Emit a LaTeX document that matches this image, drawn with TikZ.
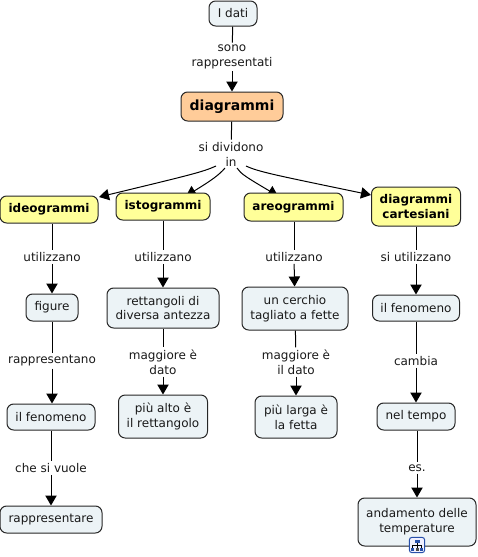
\documentclass[tikz,border=0pt]{standalone}
\usepackage{fontspec}
\setmainfont{DejaVu Sans}
\usetikzlibrary{arrows.meta,backgrounds}
\definecolor{plain}{RGB}{236,243,246}
\definecolor{gold}{RGB}{255,255,153}
\definecolor{peach}{RGB}{255,204,153}
\definecolor{iconblue}{RGB}{40,80,170}
\tikzset{
  concept/.style={draw=black!85,line width=.75pt,rounded corners=5pt,fill=plain,align=center,inner sep=0pt,
    font=\fontsize{9}{11.2}\selectfont,text=black!90},
  family/.style={concept,fill=gold,font=\fontsize{9}{11.2}\selectfont\bfseries,text=black},
  topic/.style={concept,fill=peach,font=\fontsize{10.5}{13}\selectfont\bfseries,text=black},
  boxsize/.style 2 args={minimum width=#1*.75pt,minimum height=#2*.75pt},
  link/.style={align=center,inner sep=1.5pt,font=\fontsize{9}{11.2}\selectfont,text=black!90},
  line/.style={line width=.75pt,black},
  arrow/.style={line,-{Triangle[length=7.5pt,width=8.5pt]}}
}
\begin{document}
\begin{tikzpicture}[x=.75pt,y=-.75pt]
\useasboundingbox (0,0) rectangle (478,557);
\node[concept,boxsize={48}{25}] (dati) at (233,13.5) {I dati};
\node[topic,boxsize={102}{29}] (diagrammi) at (232,106.5) {\raisebox{-1pt}{diagrammi}};
\node[family,boxsize={98}{27}] (ideogrammi) at (49,209.5) {ideogrammi};
\node[family,boxsize={94}{27}] (istogrammi) at (163,206.5) {istogrammi};
\node[family,boxsize={99}{28}] (areogrammi) at (293.5,207) {areogrammi};
\node[family,boxsize={89}{39}] (cartesiani) at (416,206.5) {diagrammi\\cartesiani};
\node[concept,boxsize={52}{27}] (figure) at (52,307.5) {figure};
\node[concept,boxsize={112}{40}] (rettangoli) at (163,308) {rettangoli di\\diversa antezza};
\node[concept,boxsize={106}{43}] (cerchio) at (295,308.5) {un cerchio\\tagliato a fette};
\node[concept,boxsize={87}{26}] (fenomenoB) at (416,308) {il fenomeno};
\node[concept,boxsize={88}{26}] (fenomenoA) at (51,417) {il fenomeno};
\node[concept,boxsize={89}{43}] (alto) at (163,416.5) {più alto è\\il rettangolo};
\node[concept,boxsize={82}{42}] (larga) at (296,417) {più larga è\\la fetta};
\node[concept,boxsize={78}{27}] (tempo) at (416,416.5) {nel tempo};
\node[concept,boxsize={102}{27}] (rappresentare) at (51,519.5) {rappresentare};
\node[concept,boxsize={118}{48}] (andamento) at (417,522) {andamento delle\\temperature};
% labels on the connectors
\node[link] (sono) at (232,57) {sono\\rappresentati};
\node[link] (dividono) at (231,154) {si dividono\\in};
\node[link] (usaA) at (52,257) {utilizzano};
\node[link] (usaB) at (163,257) {utilizzano};
\node[link] (usaC) at (294,257) {utilizzano};
\node[link] (usaD) at (416,257) {si utilizzano};
\node[link] (rappr) at (52,361) {rappresentano};
\node[link] (maggioreB) at (163,362) {maggiore è\\dato};
\node[link] (maggioreC) at (296,362) {maggiore è\\il dato};
\node[link] (cambia) at (416,361) {cambia};
\node[link] (vuole) at (51,468) {che si vuole};
\node[link] (es) at (417,468) {es.};
% free ends round the word in
\coordinate (fromA) at (216,166);
\coordinate (fromB) at (225,168);
\coordinate (fromC) at (237,168);
\coordinate (fromD) at (246,166);
\coordinate (tipA) at (99,197);
\coordinate (tipB) at (186,196);
\coordinate (tipC) at (278,196);
\coordinate (tipD) at (371,195);
\begin{scope}[on background layer]
\draw[line] (dati) -- (sono);
\draw[arrow] (sono) -- (diagrammi);
\draw[line] (diagrammi) -- (dividono);
\draw[arrow] (fromA) .. controls (203,172) and (190,175) .. (tipA);
\draw[arrow] (fromB) .. controls (219,175) and (212,180) .. (tipB);
\draw[arrow] (fromC) .. controls (241,174) and (246,177) .. (tipC);
\draw[arrow] (fromD) .. controls (259,172) and (275,175) .. (tipD);
\draw[line] (ideogrammi.south -| usaA) -- (usaA);
\draw[arrow] (usaA) -- (figure);
\draw[line] (figure) -- (rappr);
\draw[arrow] (rappr) -- (fenomenoA.north -| rappr);
\draw[line] (fenomenoA) -- (vuole);
\draw[arrow] (vuole) -- (rappresentare);
\draw[line] (istogrammi) -- (usaB);
\draw[arrow] (usaB) -- (rettangoli);
\draw[line] (rettangoli) -- (maggioreB);
\draw[arrow] (maggioreB) -- (alto);
\draw[line] (areogrammi.south -| usaC) -- (usaC);
\draw[arrow] (usaC) -- (cerchio);
\draw[line] (cerchio) -- (maggioreC);
\draw[arrow] (maggioreC) -- (larga);
\draw[line] (cartesiani) -- (usaD);
\draw[arrow] (usaD) -- (fenomenoB);
\draw[line] (fenomenoB) -- (cambia);
\draw[arrow] (cambia) -- (tempo);
\draw[line] (tempo.south -| es) -- (es);
\draw[arrow] (es) -- (es |- andamento.north);
\end{scope}
% small map icon
\node[draw=iconblue,fill=blue!6,line width=.75pt,rounded corners=2pt,minimum size=11.5pt,inner sep=0pt] (icona) at (417,545) {};
\fill[iconblue] (414.5,539.5) rectangle (419.5,543);
\fill[iconblue] (411,547.5) rectangle (414,551);
\fill[black!70] (415.5,547.5) rectangle (418.5,551);
\fill[iconblue] (420,547.5) rectangle (423,551);
\draw[black,line width=.4pt] (417,543) -- (417,547.5) (412.5,547.5) -- (412.5,545) -- (421.5,545) -- (421.5,547.5);
\end{tikzpicture}
\end{document}
